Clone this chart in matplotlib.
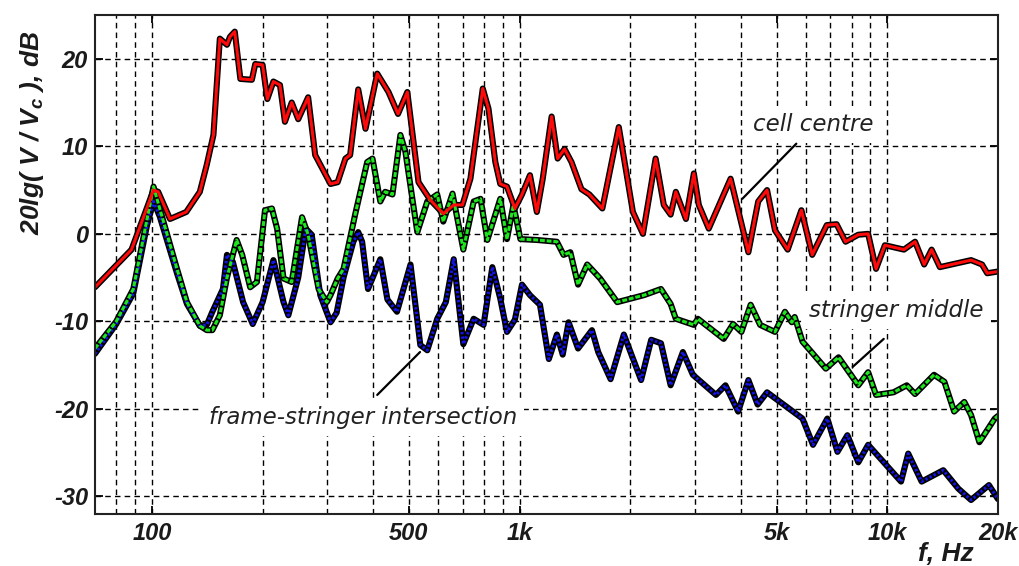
import numpy as np
import matplotlib
matplotlib.use("Agg")
import matplotlib.pyplot as plt
from matplotlib.ticker import FixedLocator, NullFormatter

plt.rcParams['font.family'] = ['Liberation Sans', 'DejaVu Sans']
plt.rcParams['mathtext.fontset'] = 'custom'
plt.rcParams['mathtext.it'] = 'Liberation Sans:italic:bold'
plt.rcParams['mathtext.rm'] = 'Liberation Sans:bold'
plt.rcParams['axes.unicode_minus'] = False

# cell centre (red)
f_cell = [70, 88, 101, 104, 112, 124, 135, 141, 147, 153, 160, 163, 168, 174, 187, 191, 200, 206,
          214, 223, 230, 240, 250, 266, 278, 306, 320, 336, 346, 364, 381, 410, 440, 467, 495, 531,
          571, 620, 662, 699, 735, 794, 823, 859, 886, 924, 971, 1015, 1067, 1114, 1156, 1222, 1269,
          1325, 1384, 1473, 1548, 1679, 1861, 2033, 2165, 2344, 2467, 2575, 2660, 2834, 2978, 3072,
          3269, 3748, 4190, 4456, 4710, 4950, 5360, 5840, 6250, 6846, 7279, 7700, 8340, 8870, 9320,
          9850, 11100, 11900, 12600, 13200, 13900, 16900, 18100, 18700, 20000]
db_cell = [-6.1, -1.8, 5.0, 4.8, 1.7, 2.5, 4.8, 7.9, 11.3, 22.3, 21.6, 22.5, 23.1, 17.7, 17.6, 19.4,
           19.3, 15.4, 17.4, 17.0, 12.8, 15.0, 13.1, 15.6, 9.0, 5.7, 5.9, 8.6, 9.0, 16.5, 12.0, 18.3,
           16.2, 13.7, 16.2, 5.9, 3.9, 2.3, 3.3, 3.3, 6.3, 16.6, 14.3, 8.2, 5.7, 5.4, 2.9, 4.5, 6.7,
           2.5, 6.3, 13.4, 8.6, 9.7, 8.2, 5.1, 4.5, 2.9, 12.2, 2.5, 0.0, 8.6, 3.3, 2.2, 4.8, 1.7, 6.9,
           3.3, 0.6, 6.3, -2.1, 3.7, 5.0, 0.4, -1.8, 2.7, -2.4, 1.0, 1.1, -0.9, -0.1, 0.0, -4.0, -1.3,
           -1.8, -0.9, -3.5, -1.8, -3.8, -3.0, -3.5, -4.5, -4.3]

# stringer middle (green)
f_str = [70, 80, 89, 97, 101, 105, 117, 124.5, 135, 141, 146, 153, 160, 170, 176, 185, 193, 203,
         212, 219, 228, 240, 256, 266, 284, 299, 306, 320, 332, 357, 385, 398, 418, 431, 451, 474,
         489, 527, 561, 597, 620, 657, 703, 750, 783, 817, 886, 924, 962, 1005, 1114, 1263, 1317,
         1374, 1442, 1527, 1656, 1843, 2180, 2424, 2575, 2660, 2978, 3054, 3590, 3808, 4011, 4250,
         4510, 4950, 5268, 5500, 5600, 5879, 6804, 7370, 8340, 8870, 9320, 10400, 11300, 11900,
         13400, 14300, 15200, 16200, 16900, 17800, 19600, 20000]
db_str = [-13.1, -10.0, -6.3, 1.7, 5.4, 2.9, -4.0, -7.8, -10.5, -11.0, -11.0, -9.3, -5.0, -0.7,
          -2.4, -6.1, -5.5, 2.7, 2.9, 0.6, -5.1, -5.5, 1.9, -0.1, -6.3, -7.8, -7.0, -5.1, -4.0, 2.2,
          8.2, 8.6, 3.7, 4.8, 4.5, 11.3, 9.4, 0.2, 3.7, 4.5, 1.4, 4.6, -1.8, 3.7, 4.0, -0.7, 4.0,
          -0.6, 3.3, -0.6, -0.7, -0.9, -2.4, -2.1, -5.8, -3.5, -5.1, -7.8, -7.0, -6.3, -8.0, -9.7,
          -10.4, -9.7, -12.0, -10.3, -11.2, -8.1, -10.4, -11.2, -8.9, -10.1, -9.5, -12.3, -15.4,
          -14.1, -17.3, -15.8, -18.4, -18.1, -17.3, -18.3, -16.1, -16.9, -20.3, -19.2, -20.7, -23.8,
          -21.1, -20.8]

# frame-stringer intersection (blue)
f_fsi = [70, 80, 89, 97, 101, 105, 117, 124.5, 135, 141, 146, 156, 160, 166, 177, 188, 200, 214,
         228, 235, 250, 262, 272, 287, 306, 318, 332, 353, 364, 373, 387, 418, 437, 464, 505, 537,
         561, 597, 630, 662, 703, 750, 798, 843, 886, 924, 971, 1015, 1067, 1136, 1201, 1263, 1310,
         1359, 1442, 1573, 1636, 1768, 1921, 2140, 2280, 2424, 2575, 2780, 2960, 3420, 3630, 3930,
         4190, 4440, 4710, 5880, 6280, 6870, 7320, 7790, 8340, 8870, 10900, 11400, 12400, 14200,
         15600, 16900, 18900, 20000]
db_fsi = [-13.7, -10.3, -6.8, 1.0, 3.7, 2.0, -4.5, -8.0, -10.5, -10.4, -8.9, -6.3, -2.4, -3.2,
          -7.8, -10.3, -7.8, -3.0, -7.8, -9.3, -5.0, 0.6, -0.1, -7.0, -10.1, -9.0, -5.0, -0.9, 0.2,
          -0.9, -6.3, -2.9, -7.5, -8.9, -3.5, -12.7, -13.3, -9.7, -7.8, -2.9, -12.6, -9.7, -10.4,
          -3.8, -7.4, -11.2, -9.8, -5.8, -7.0, -8.1, -14.3, -11.5, -13.8, -10.1, -13.1, -11.0, -13.5,
          -16.6, -11.5, -16.7, -12.1, -12.5, -17.3, -13.5, -16.1, -18.4, -17.3, -20.3, -16.7, -19.5,
          -18.1, -21.1, -24.1, -21.1, -24.9, -23.0, -26.1, -24.1, -28.3, -25.1, -28.3, -27.0, -29.1,
          -30.4, -28.7, -30.3]

xticks = [100, 500, 1000, 5000, 10000, 20000]
xticklabels = ['100', '500', '1k', '5k', '10k', '20k']
xgrid_minor = [80, 90, 200, 300, 400, 600, 700, 800, 900,
               2000, 3000, 4000, 6000, 7000, 8000, 9000]
yticks = [-30, -20, -10, 0, 10, 20]

fig = plt.figure(figsize=(10.2, 5.66), dpi=100)
ax = fig.add_axes([0.0931, 0.0919, 0.8853, 0.8816])

# black outline under each coloured line
series = [(f_fsi, db_fsi, '#1414e6', (0, (0.8, 0.7))),
          (f_str, db_str, '#1ee61e', (0, (1.6, 0.6))),
          (f_cell, db_cell, '#ff0a0a', '-')]
for f, db, c, ls in series:
    ax.plot(f, db, color='black', lw=4.4, solid_joinstyle='round', solid_capstyle='round', zorder=2)
    ax.plot(f, db, color=c, lw=2.2, ls=ls, solid_joinstyle='round', zorder=2.1)

ax.set_xscale('log')
ax.set_xlim(70, 20000)
ax.set_ylim(-32, 25)

ax.xaxis.set_major_locator(FixedLocator(xticks))
ax.set_xticklabels(xticklabels)
ax.xaxis.set_minor_locator(FixedLocator(xgrid_minor))
ax.xaxis.set_minor_formatter(NullFormatter())
ax.set_yticks(yticks)

ax.set_axisbelow(True)
ax.grid(True, which='both', color='black', ls=(0, (4, 3)), lw=1.0)
ax.tick_params(which='major', direction='in', length=6, width=1.3, top=True, right=True,
               labelsize=17)
ax.tick_params(axis='x', pad=6)
ax.tick_params(axis='y', pad=5)
ax.tick_params(which='minor', length=0)
for lab in ax.get_xticklabels() + ax.get_yticklabels():
    lab.set_fontstyle('italic')
    lab.set_fontweight('bold')
    lab.set_color('#1a1a1a')
for sp in ax.spines.values():
    sp.set_linewidth(1.5)
    sp.set_color('#222222')

fig.text(0.031, 1 - 133 / 566, r'20lg( $V$ / $V_c$ ), dB', rotation=90, ha='center', va='center',
         fontsize=19, fontweight='bold', fontstyle='italic', color='#1a1a1a')
fig.text(946 / 1020, 0.0, 'f, Hz', ha='center', va='bottom', fontsize=19,
         fontweight='bold', fontstyle='italic', color='#1a1a1a')

# labels with leader lines
box = dict(fc='white', ec='none', pad=5)
lab_font = dict(family='DejaVu Sans', fontsize=16.5, fontstyle='italic', color='#222222')
ax.text(6285, 12.5, 'cell centre', ha='center', va='center', bbox=box, zorder=3, **lab_font)
ax.annotate('', xy=(4033, 4.0), xytext=(5657, 10.3),
            arrowprops=dict(arrowstyle='-', lw=1.6, color='black', shrinkA=0, shrinkB=0), zorder=4)
ax.text(10600, -8.8, 'stringer middle', ha='center', va='center', bbox=box, zorder=3, **lab_font)
ax.annotate('', xy=(8050, -15.2), xytext=(9780, -12.0),
            arrowprops=dict(arrowstyle='-', lw=1.6, color='black', shrinkA=0, shrinkB=0), zorder=4)
ax.text(376, -21.0, 'frame-stringer intersection', ha='center', va='center', bbox=box, zorder=3,
        **lab_font)
ax.annotate('', xy=(536, -13.5), xytext=(410, -18.4),
            arrowprops=dict(arrowstyle='-', lw=1.6, color='black', shrinkA=0, shrinkB=0), zorder=4)

fig.savefig('out.png', dpi=100)
